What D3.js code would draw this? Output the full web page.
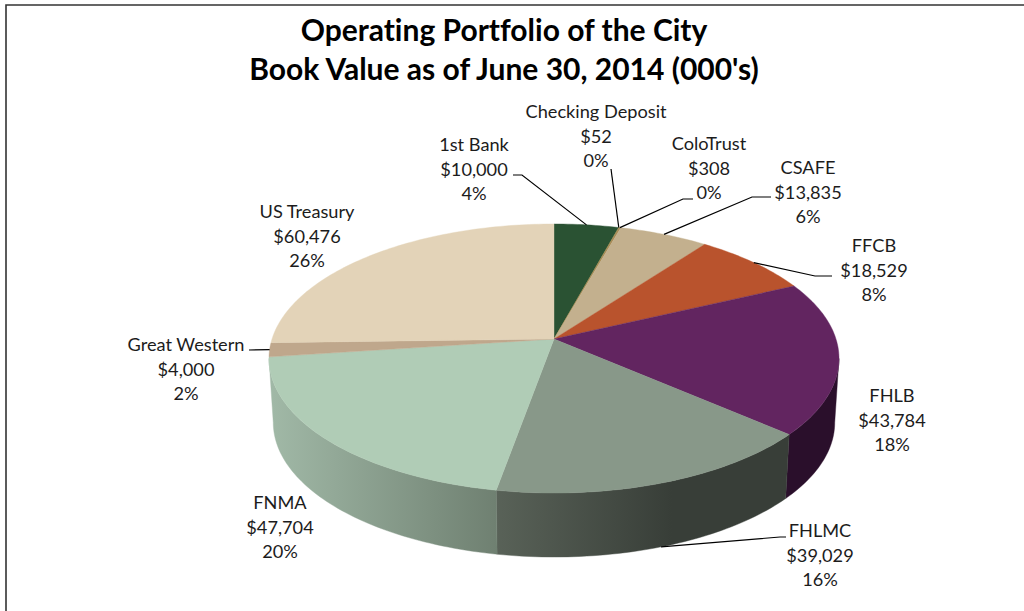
<!DOCTYPE html>
<html>
<head>
<meta charset="utf-8">
<title>Operating Portfolio of the City</title>
<script src="https://cdnjs.cloudflare.com/ajax/libs/d3/7.8.5/d3.min.js"></script>
<style>
    body { margin: 0; background: #fff; }
    svg { display: block; }
    text { font-family: Lato, "Open Sans", sans-serif; fill: #1c1c1c; font-variant-ligatures: none; }
</style>
</head>
<body>
<svg id="chart" width="1024" height="611"></svg>
<script>
var titleLines = ['Operating Portfolio of the City', 'Book Value as of June 30, 2014 (000\'s)'];
var names = ['1st Bank', 'Checking Deposit', 'ColoTrust', 'CSAFE', 'FFCB', 'FHLB', 'FHLMC', 'FNMA', 'Great Western', 'US Treasury'];
var values = [10000, 52, 308, 13835, 18529, 43784, 39029, 47704, 4000, 60476];
var percents = ['4%', '0%', '0%', '6%', '8%', '18%', '16%', '20%', '2%', '26%'];

var topColors = ['#2a5233', '#6f7d48', '#a98c55', '#c3b08e', '#b9532d', '#622560', '#889889', '#b0ccb6', '#bfa78c', '#e3d3b8'];
var sideLeft = ['#1c3823', '#4a5530', '#74603a', '#85785f', '#7e381e', '#2a0f2b', '#596258', '#a1b9a7', '#a1b9a7', '#a89b86'];
var sideRight = ['#1c3823', '#4a5530', '#74603a', '#85785f', '#7e381e', '#2a0f2b', '#383e38', '#6f8071', '#a1b9a7', '#a89b86'];

// label centre, first baseline, and the leader's way to the text (null = no leader)
var labelLayout = [
    { x: 474, y: 151, leader: [[522, 175], [513, 175]] },
    { x: 596, y: 118, leader: [[611, 169]] },
    { x: 709, y: 150, leader: [[683, 199], [693, 199]] },
    { x: 808, y: 174, leader: [[752, 197], [771, 197]] },
    { x: 874, y: 252, leader: [[815, 276], [832, 276]] },
    { x: 892, y: 402, leader: null },
    { x: 820, y: 537, leader: [[780, 537], [786, 537]], fromBottom: true },
    { x: 280, y: 509, leader: null },
    { x: 186, y: 351, leader: [[249, 350]] },
    { x: 307, y: 218, leader: null }
];

var svg = d3.select('#chart');
var defs = svg.append('defs');

// frame, only top and left are visible in the picture
svg.append('path')
    .attr('d', 'M6,611V5H1024')
    .attr('fill', 'none')
    .attr('stroke', '#333')
    .attr('stroke-width', 1.6);

svg.selectAll('.title')
    .data(titleLines)
    .enter().append('text')
    .attr('class', 'title')
    .attr('x', 504)
    .attr('y', function(d, i) { return 41 + i * 39; })
    .attr('text-anchor', 'middle')
    .attr('font-size', 30)
    .attr('font-weight', 700)
    .style('fill', '#000')
    .text(function(d) { return d; });

// perspective projection of a tilted disc, near edge is larger than the far edge
var apexX = 554, apexY = 339;
var radiusX = 282, radiusY = 131.7, tilt = 0.145;
var depth = 64, bottomShrink = 0.985;

function project(angle, bottom) {
    var px = Math.sin(angle);
    var py = -Math.cos(angle);
    var d = 1 - tilt * py;
    if (bottom) {
        return [apexX + bottomShrink * radiusX * px / d, apexY + depth + radiusY * py / d];
    }
    return [apexX + radiusX * px / d, apexY + radiusY * py / d];
}

function arcPoints(a0, a1, bottom) {
    var steps = Math.max(2, Math.ceil((a1 - a0) / 0.02));
    return d3.range(steps + 1).map(function(i) {
        return project(a0 + (a1 - a0) * i / steps, bottom);
    });
}

var arcs = d3.pie().sort(null)(values);
var line = d3.line();

// only the part of the wall that faces the viewer, from silhouette to silhouette
var frontStart = Math.acos(-tilt);
var frontEnd = 2 * Math.PI - frontStart;

arcs.forEach(function(a, i) {
    var a0 = Math.max(a.startAngle, frontStart);
    var a1 = Math.min(a.endAngle, frontEnd);
    if (a1 <= a0) return;
    var top = arcPoints(a0, a1, false);
    var bottom = arcPoints(a0, a1, true).reverse();
    var xs = top.concat(bottom).map(function(p) { return p[0]; });
    var grad = defs.append('linearGradient')
        .attr('id', 'side' + i)
        .attr('gradientUnits', 'userSpaceOnUse')
        .attr('x1', d3.min(xs)).attr('x2', d3.max(xs))
        .attr('y1', 0).attr('y2', 0);
    grad.append('stop').attr('offset', 0).attr('stop-color', sideLeft[i]);
    if (names[i] === 'FHLMC') {
        grad.append('stop').attr('offset', 0.6).attr('stop-color', sideRight[i]);
    }
    grad.append('stop').attr('offset', 1).attr('stop-color', sideRight[i]);
    svg.append('path')
        .attr('d', line(top.concat(bottom)) + 'Z')
        .attr('fill', 'url(#side' + i + ')')
        .attr('stroke', 'url(#side' + i + ')')
        .attr('stroke-width', 0.4);
});

arcs.forEach(function(a, i) {
    var pts = [[apexX, apexY]].concat(arcPoints(a.startAngle, a.endAngle, false));
    svg.append('path')
        .attr('d', line(pts) + 'Z')
        .attr('fill', topColors[i])
        .attr('stroke', topColors[i])
        .attr('stroke-width', 0.4);
});

// leader lines start on the rim at the middle of the slice
arcs.forEach(function(a, i) {
    var lay = labelLayout[i];
    if (!lay.leader) return;
    var start = project((a.startAngle + a.endAngle) / 2, lay.fromBottom);
    svg.append('path')
        .attr('d', line([start].concat(lay.leader)))
        .attr('fill', 'none')
        .attr('stroke', '#000')
        .attr('stroke-width', 1.2);
});

names.forEach(function(name, i) {
    var lay = labelLayout[i];
    var rows = [name, '$' + d3.format(',')(values[i]), percents[i]];
    svg.selectAll('.label' + i)
        .data(rows)
        .enter().append('text')
        .attr('class', 'label' + i)
        .attr('x', lay.x)
        .attr('y', function(d, r) { return lay.y + r * 24.6; })
        .attr('text-anchor', 'middle')
        .attr('font-size', 18.2)
        .text(function(d) { return d; });
});
</script>
</body>
</html>
